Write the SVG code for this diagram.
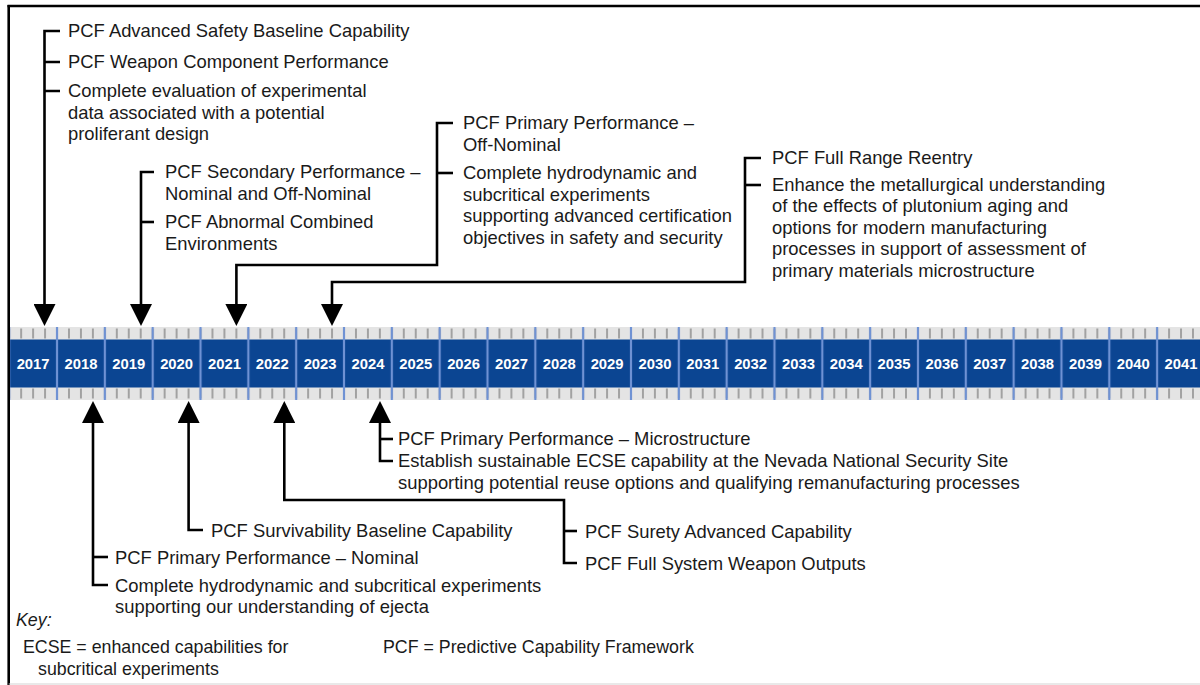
<svg xmlns="http://www.w3.org/2000/svg" width="1200" height="685" viewBox="0 0 1200 685">
<style>
.t{font-family:"Liberation Sans",Arial,sans-serif;font-size:18.4px;fill:#1a1a1a}
.ks{font-size:17.8px}
.k{font-style:italic}
.yr{font-family:"Liberation Sans",Arial,sans-serif;font-size:14.8px;font-weight:bold;fill:#ffffff;text-anchor:middle}
.ln{fill:none;stroke:#000;stroke-width:2.6;stroke-linejoin:miter;stroke-linecap:butt}
.ah{marker-end:url(#arr)}
</style>
<defs>
<marker id="arr" markerUnits="userSpaceOnUse" viewBox="0 0 22 22" markerWidth="22" markerHeight="22" refX="0" refY="11" orient="auto">
<path d="M0,0 L22,11 L0,22 Z" fill="#000"/>
</marker>
<pattern id="tk" patternUnits="userSpaceOnUse" x="3.22" y="327" width="11.9575" height="73">
<line x1="5.98" y1="1.5" x2="5.98" y2="11.5" stroke="#969696" stroke-width="1.7"/>
<line x1="5.98" y1="61.5" x2="5.98" y2="71.5" stroke="#969696" stroke-width="1.7"/>
</pattern>
<pattern id="dv" patternUnits="userSpaceOnUse" x="33.115" y="327" width="47.83" height="73">
<line x1="23.915" y1="0" x2="23.915" y2="73" stroke="#6f92d4" stroke-width="2.2"/>
</pattern>
</defs>
<rect x="0" y="0" width="1200" height="685" fill="#ffffff"/>

<g id="timeline">
<rect x="9" y="327" width="1191" height="73" fill="#e4e4e4"/>
<rect x="9" y="327" width="1191" height="73" fill="url(#tk)"/>
<rect x="9" y="339.5" width="1191" height="48" fill="#0b4592"/>
<rect x="9" y="327" width="1191" height="73" fill="url(#dv)"/>
<text class="yr" x="33.1" y="368.5">2017</text>
<text class="yr" x="80.9" y="368.5">2018</text>
<text class="yr" x="128.8" y="368.5">2019</text>
<text class="yr" x="176.6" y="368.5">2020</text>
<text class="yr" x="224.4" y="368.5">2021</text>
<text class="yr" x="272.3" y="368.5">2022</text>
<text class="yr" x="320.1" y="368.5">2023</text>
<text class="yr" x="367.9" y="368.5">2024</text>
<text class="yr" x="415.7" y="368.5">2025</text>
<text class="yr" x="463.6" y="368.5">2026</text>
<text class="yr" x="511.4" y="368.5">2027</text>
<text class="yr" x="559.2" y="368.5">2028</text>
<text class="yr" x="607.1" y="368.5">2029</text>
<text class="yr" x="654.9" y="368.5">2030</text>
<text class="yr" x="702.7" y="368.5">2031</text>
<text class="yr" x="750.6" y="368.5">2032</text>
<text class="yr" x="798.4" y="368.5">2033</text>
<text class="yr" x="846.2" y="368.5">2034</text>
<text class="yr" x="894.0" y="368.5">2035</text>
<text class="yr" x="941.9" y="368.5">2036</text>
<text class="yr" x="989.7" y="368.5">2037</text>
<text class="yr" x="1037.5" y="368.5">2038</text>
<text class="yr" x="1085.4" y="368.5">2039</text>
<text class="yr" x="1133.2" y="368.5">2040</text>
<text class="yr" x="1181.0" y="368.5">2041</text>
</g>

<g id="connectors">
<path class="ln ah" d="M60,31 H44.5 V304"/>
<path class="ln" d="M44.5,62 H60 M44.5,91 H60"/>
<path class="ln ah" d="M154,172 H141 V304"/>
<path class="ln" d="M141,222 H154"/>
<path class="ln ah" d="M453,123 H437 V265 H236.4 V304"/>
<path class="ln" d="M437,173 H453"/>
<path class="ln ah" d="M761,158 H745 V282 H332 V304"/>
<path class="ln" d="M745,185 H761"/>
<path class="ln ah" d="M108,585 H93 V423"/>
<path class="ln" d="M93,557 H108"/>
<path class="ln ah" d="M203,530 H188.6 V423"/>
<path class="ln ah" d="M577,563 H564 V500 H284.3 V423"/>
<path class="ln" d="M564,531 H577"/>
<path class="ln ah" d="M393,461 H380 V423"/>
<path class="ln" d="M380,439 H393"/>
</g>

<g id="m2017">
<text class="t" x="68" y="37">PCF Advanced Safety Baseline Capability</text>
<text class="t" x="68" y="68">PCF Weapon Component Performance</text>
<text class="t" x="68" y="97">Complete evaluation of experimental</text>
<text class="t" x="68" y="118.5">data associated with a potential</text>
<text class="t" x="68" y="140">proliferant design</text>
</g>
<g id="m2019">
<text class="t" x="165" y="178">PCF Secondary Performance –</text>
<text class="t" x="165" y="199.5">Nominal and Off-Nominal</text>
<text class="t" x="165" y="228">PCF Abnormal Combined</text>
<text class="t" x="165" y="249.5">Environments</text>
</g>
<g id="m2021">
<text class="t" x="463" y="129">PCF Primary Performance –</text>
<text class="t" x="463" y="150.5">Off-Nominal</text>
<text class="t" x="463" y="179">Complete hydrodynamic and</text>
<text class="t" x="463" y="200.5">subcritical experiments</text>
<text class="t" x="463" y="222">supporting advanced certification</text>
<text class="t" x="463" y="243.5">objectives in safety and security</text>
</g>
<g id="m2023">
<text class="t" x="772" y="164">PCF Full Range Reentry</text>
<text class="t" x="772" y="190.5">Enhance the metallurgical understanding</text>
<text class="t" x="772" y="212">of the effects of plutonium aging and</text>
<text class="t" x="772" y="233.5">options for modern manufacturing</text>
<text class="t" x="772" y="255">processes in support of assessment of</text>
<text class="t" x="772" y="276.5">primary materials microstructure</text>
</g>
<g id="m2024">
<text class="t" x="398" y="445">PCF Primary Performance – Microstructure</text>
<text class="t" x="398" y="467">Establish sustainable ECSE capability at the Nevada National Security Site</text>
<text class="t" x="398" y="488.5">supporting potential reuse options and qualifying remanufacturing processes</text>
</g>
<g id="m2020">
<text class="t" x="211" y="536.5">PCF Survivability Baseline Capability</text>
</g>
<g id="m2022">
<text class="t" x="585" y="537.5">PCF Surety Advanced Capability</text>
<text class="t" x="585" y="569.5">PCF Full System Weapon Outputs</text>
</g>
<g id="m2018">
<text class="t" x="115" y="563.5">PCF Primary Performance – Nominal</text>
<text class="t" x="115" y="591.5">Complete hydrodynamic and subcritical experiments</text>
<text class="t" x="115" y="613">supporting our understanding of ejecta</text>
</g>
<g id="key">
<text class="t ks k" x="16" y="626">Key:</text>
<text class="t ks" x="23" y="653">ECSE = enhanced capabilities for</text>
<text class="t ks" x="38" y="674.5">subcritical experiments</text>
<text class="t ks" x="383" y="653">PCF = Predictive Capability Framework</text>
</g>

<g id="frame">
<path d="M7.5,6 H1200" fill="none" stroke="#000" stroke-width="2.6"/>
<path d="M8.7,5 V685" fill="none" stroke="#000" stroke-width="2.6"/>
<path d="M8.7,684 H1200" fill="none" stroke="#d4d4d4" stroke-width="1.2"/>
</g>
</svg>
